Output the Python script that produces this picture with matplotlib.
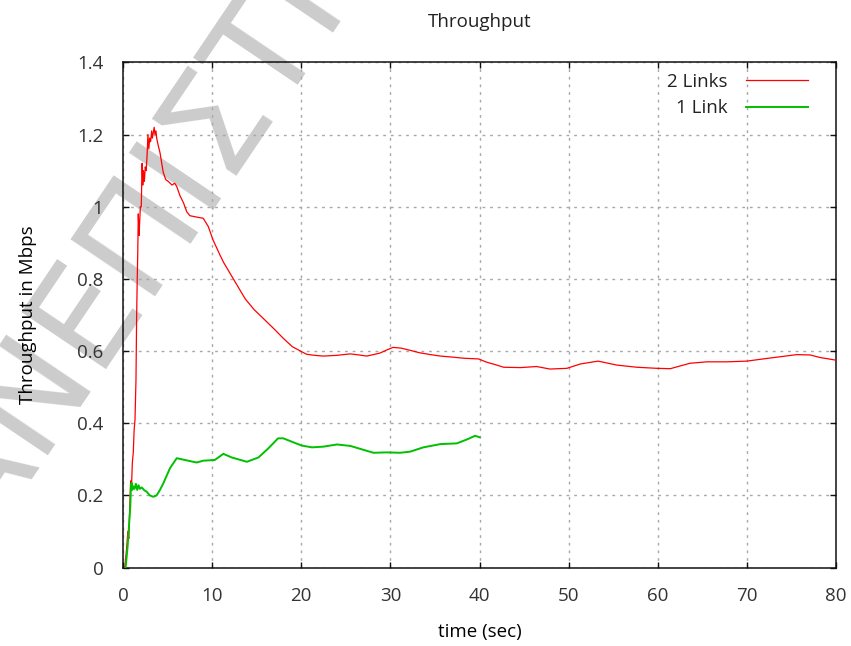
import matplotlib
matplotlib.use('Agg')
import matplotlib.pyplot as plt

# throughput over time, 2 links vs 1 link
links2_t = [0.2, 0.4, 0.55, 0.65, 0.75, 0.86, 0.95, 1.05, 1.16, 1.25, 1.35, 1.46, 1.53,
            1.6, 1.65, 1.72, 1.8, 1.88, 1.95, 2.05, 2.15, 2.22, 2.3, 2.4, 2.5, 2.6, 2.7,
            2.8, 2.9, 3.0, 3.1, 3.22, 3.3, 3.4, 3.5, 3.59, 3.7, 3.78, 3.95, 4.15, 4.35,
            4.52, 4.8, 5.08, 5.5, 5.8, 6.03, 6.4, 6.8, 7.15, 7.5, 7.9, 8.5, 9.0, 9.57,
            10.1, 10.9, 11.3, 12.38, 13.7, 14.7, 15.75, 17.0, 17.99, 19.0, 20.05, 20.6,
            21.5, 22.5, 24.0, 25.5, 26.5, 27.35, 28.8, 29.6, 30.3, 31.2, 32.2, 33.3,
            34.5, 35.6, 37.0, 38.2, 39.9, 40.8, 41.8, 42.7, 44.6, 46.4, 47.9, 49.8,
            51.3, 53.3, 55.4, 57.65, 59.9, 61.4, 63.6, 65.5, 67.75, 70.0, 71.5, 73.7,
            75.6, 77.1, 78.2, 79.9]
links2_v = [0.0, 0.05, 0.10, 0.08, 0.16, 0.24, 0.22, 0.29, 0.32, 0.38, 0.41, 0.52, 0.69,
            0.80, 0.86, 0.98, 0.92, 0.96, 1.0, 1.0, 1.12, 1.06, 1.10, 1.07, 1.11, 1.10, 1.14,
            1.20, 1.16, 1.19, 1.18, 1.21, 1.19, 1.205, 1.22, 1.20, 1.21, 1.19, 1.17, 1.15, 1.12,
            1.095, 1.075, 1.07, 1.06, 1.065, 1.056, 1.03, 1.01, 0.986, 0.975, 0.973, 0.97, 0.968, 0.945,
            0.908, 0.865, 0.845, 0.80, 0.745, 0.715, 0.69, 0.66, 0.635, 0.612, 0.598, 0.591,
            0.588, 0.586, 0.588, 0.592, 0.589, 0.586, 0.594, 0.603, 0.610, 0.608, 0.602, 0.595,
            0.590, 0.586, 0.583, 0.580, 0.578, 0.569, 0.562, 0.555, 0.554, 0.557, 0.550, 0.552,
            0.564, 0.572, 0.561, 0.555, 0.552, 0.551, 0.566, 0.570, 0.570, 0.572, 0.577, 0.584,
            0.590, 0.589, 0.582, 0.575]

link1_t = [0.3, 0.52, 0.67, 0.82, 0.9, 0.98, 1.05, 1.16, 1.3, 1.45, 1.6, 1.75, 1.9, 2.1,
           2.4, 2.66, 3.0, 3.4, 3.78, 4.15, 4.52, 5.27, 6.03, 6.58, 7.5, 8.27, 9.0, 10.3,
           11.26, 12.2, 13.9, 15.2, 16.3, 17.4, 17.99, 18.9, 20.05, 21.2, 22.5, 24.0, 25.5,
           27.0, 28.1, 29.6, 31.1, 32.2, 33.7, 35.6, 37.45, 38.6, 39.5, 40.0]
link1_v = [0.0, 0.058, 0.113, 0.168, 0.229, 0.235, 0.215, 0.225, 0.218, 0.232, 0.215, 0.228,
           0.218, 0.222, 0.214, 0.21, 0.200, 0.196, 0.200, 0.215, 0.233, 0.275, 0.303, 0.30,
           0.295, 0.291, 0.296, 0.298, 0.315, 0.305, 0.293, 0.305, 0.33, 0.358, 0.358, 0.349,
           0.338, 0.333, 0.335, 0.341, 0.337, 0.326, 0.318, 0.319, 0.318, 0.321, 0.333, 0.342,
           0.344, 0.355, 0.365, 0.361]

xticks = [0, 10, 20, 30, 40, 50, 60, 70, 80]
yticks = [0, 0.2, 0.4, 0.6, 0.8, 1.0, 1.2, 1.4]
ytick_labels = ['0', '0.2', '0.4', '0.6', '0.8', '1', '1.2', '1.4']

FS = 13.5
plt.rcParams['font.family'] = ['Open Sans', 'DejaVu Sans']
plt.rcParams['font.size'] = FS
plt.rcParams['text.color'] = '#222222'

fig = plt.figure(figsize=(8.51, 6.46), dpi=100)
ax = fig.add_axes([0.1445, 0.1215, 0.838, 0.782])
ax.set_facecolor('none')

# faint diagonal watermark behind the plot
fig.text(-0.09, 0.04, 'ΠΑΝΕΠΙΣΤΗΜΙΟ', fontsize=100, color='#cccccc',
         family='DejaVu Sans', rotation=56, rotation_mode='anchor',
         ha='left', va='baseline', zorder=-1)

ax.plot(links2_t, links2_v, color='#ff0000', lw=0.9, label='2 Links', zorder=3)
ax.plot(link1_t, link1_v, color='#00c000', lw=1.4, label='1 Link', zorder=3)

ax.set_xlim(0, 80)
ax.set_ylim(0, 1.4)
ax.set_xticks(xticks)
ax.set_yticks(yticks)
ax.set_yticklabels(ytick_labels)
ax.tick_params(direction='in', length=4.5, width=1, top=True, right=True,
               labelsize=FS, pad=14, colors='#111111', labelcolor='#333333')
ax.grid(True, color='#a8a8a8', lw=1.0, dashes=(2, 3.5))
for s in ax.spines.values():
    s.set_linewidth(1.1)
    s.set_color('#111111')

ax.set_title('Throughput', fontsize=FS, y=1.079, va='center', pad=0)
ax.set_xlabel('time (sec)', fontsize=FS, va='center')
ax.xaxis.set_label_coords(0.5, -0.1277)
ax.set_ylabel('Throughput in Mbps', fontsize=FS, va='center')
ax.yaxis.set_label_coords(-0.1332, 0.5)

ax.legend(loc='upper right', bbox_to_anchor=(0.9612, 0.979), frameon=False,
          markerfirst=False, handlelength=3.34, handletextpad=0.96,
          labelspacing=0.45, borderpad=0, borderaxespad=0, fontsize=FS)

fig.savefig('out.png', dpi=100)
